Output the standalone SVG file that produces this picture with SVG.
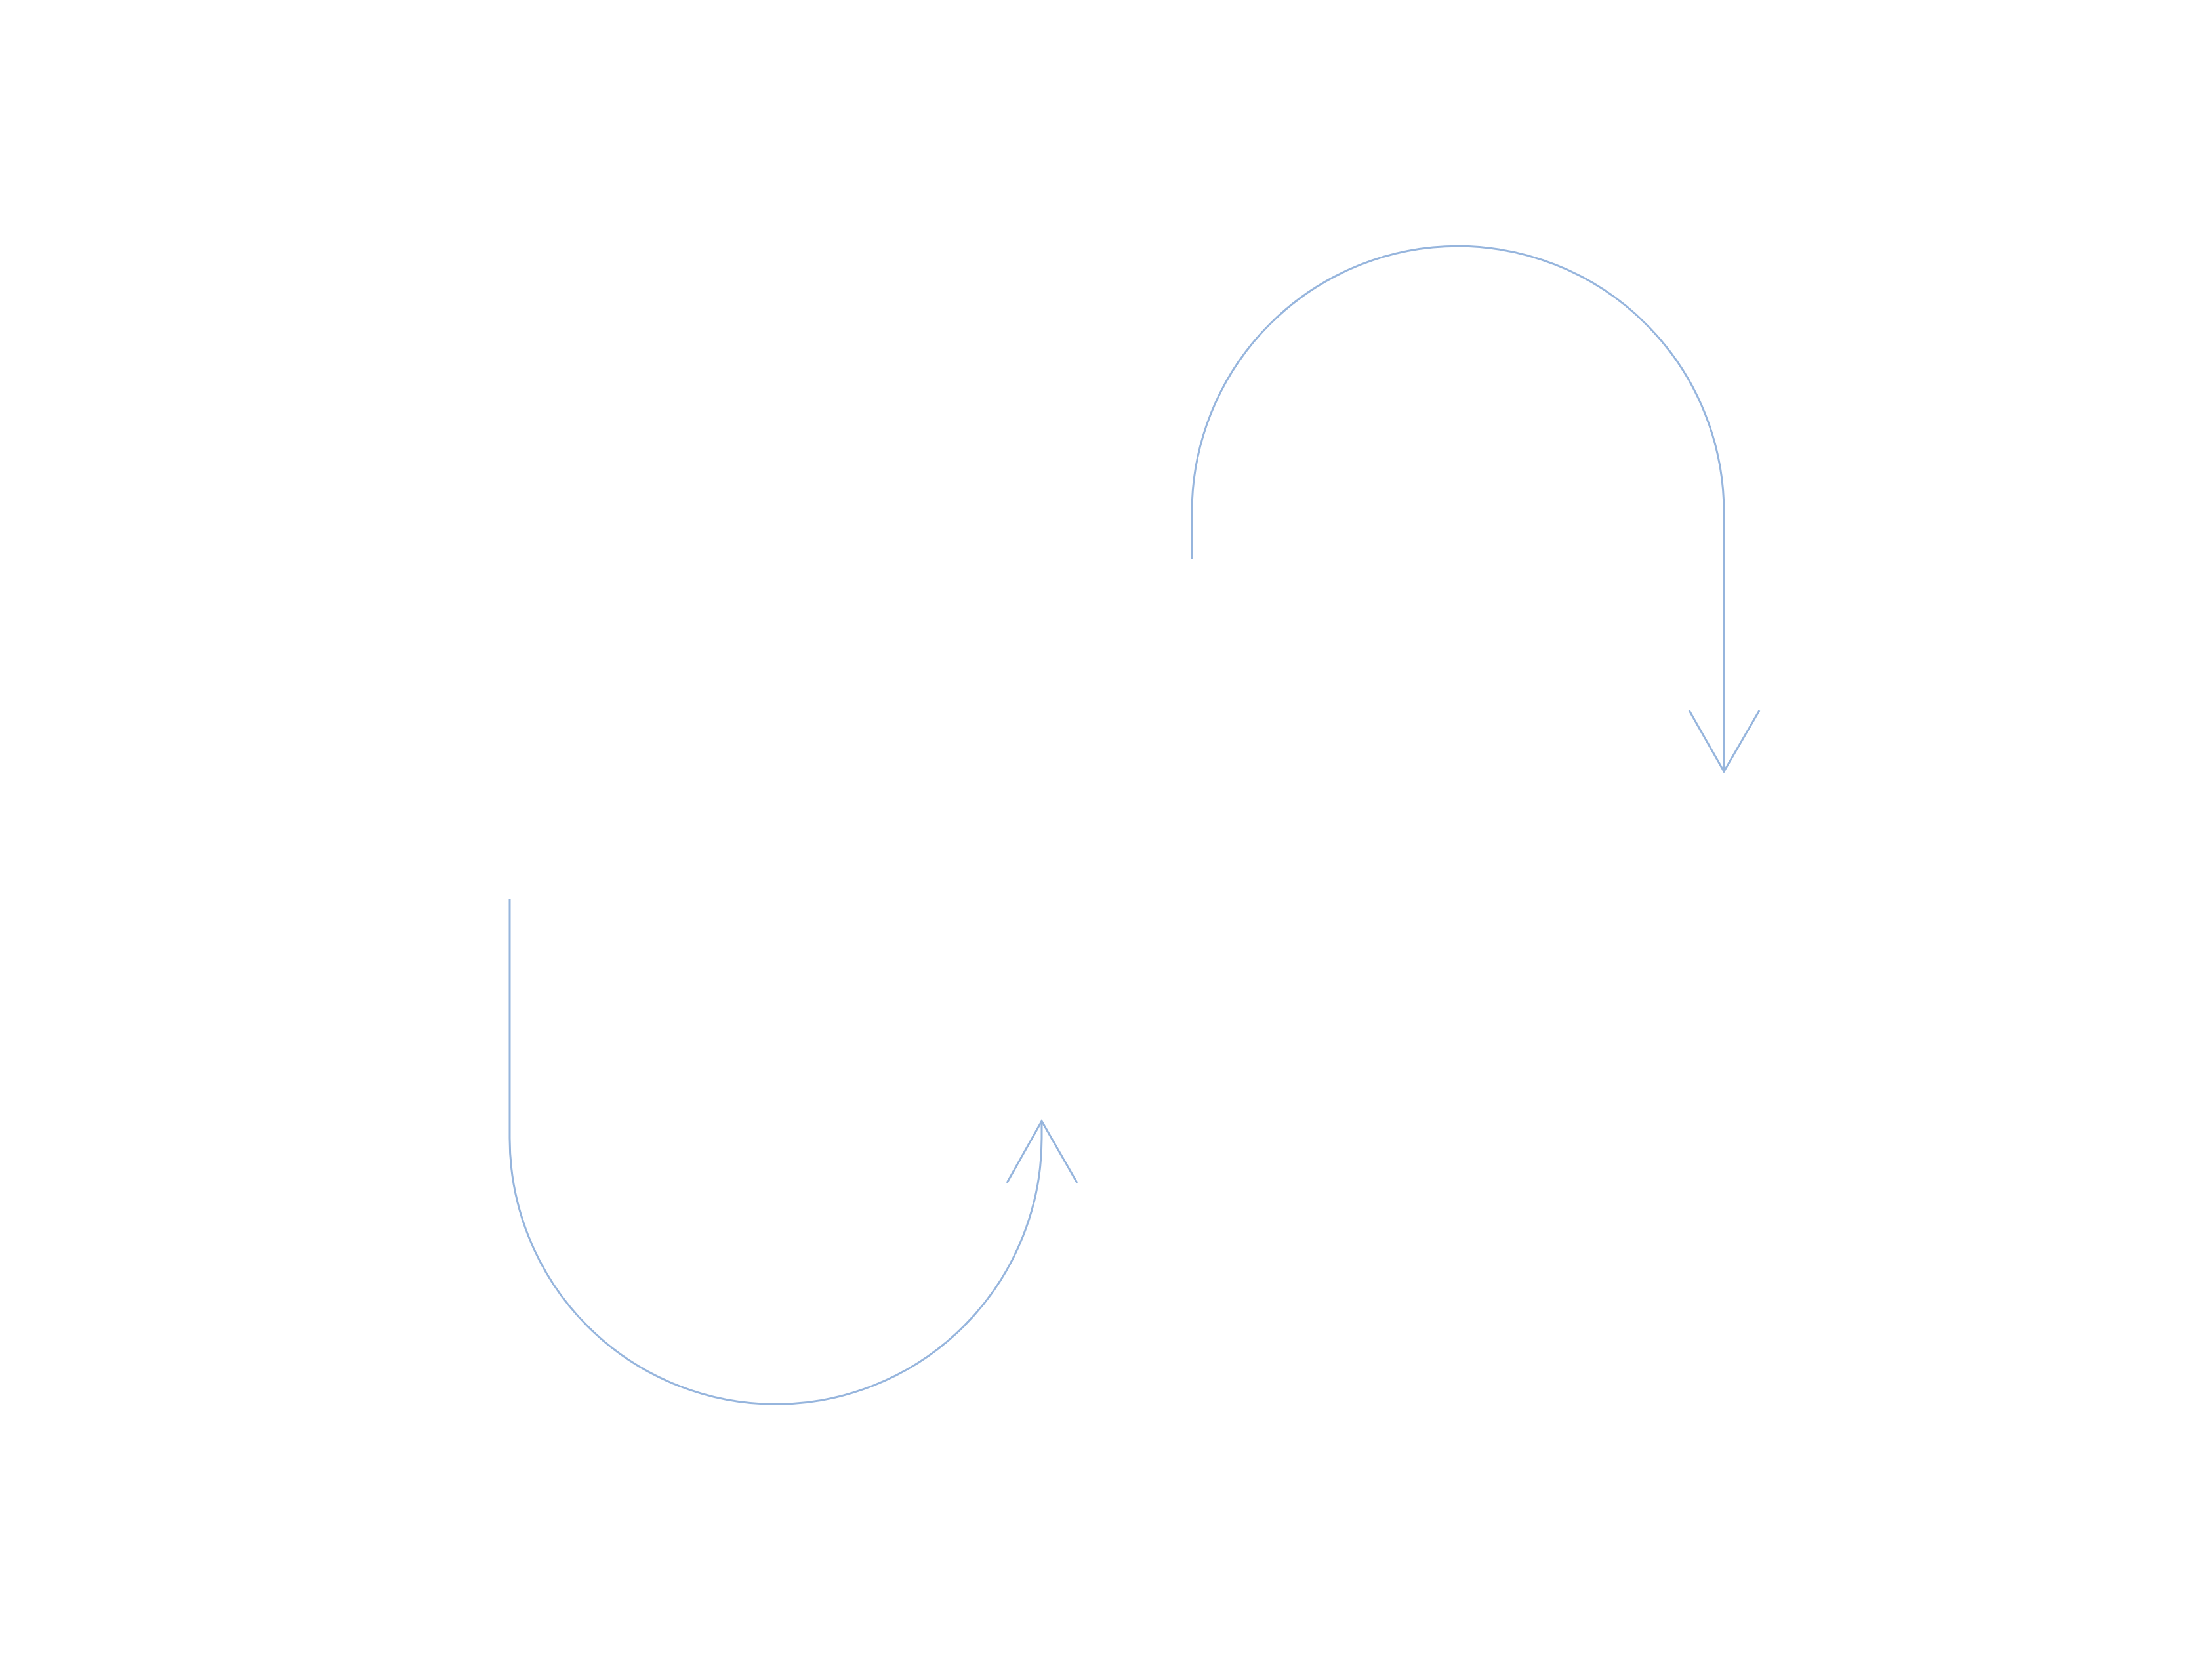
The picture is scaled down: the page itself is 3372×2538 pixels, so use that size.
<svg xmlns="http://www.w3.org/2000/svg" width="3372" height="2538" viewBox="0 0 3372 2538">
<style>
.c{fill:none;stroke:#96B5DD;stroke-width:3;stroke-linecap:butt;stroke-linejoin:miter}
</style>
<rect width="3372" height="2538" fill="#FFFFFF"/>
<g id="connectors">
<g id="arrow-top">
<path class="c" d="M1817,852 V780.5 A405.5,405.5 0 0 1 2628,780.5 V1176"/>
<polyline class="c" points="2575,1083 2628,1176 2682,1083"/>
</g>
<g id="arrow-bottom">
<path class="c" d="M777,1370 V1735 A405.5,405.5 0 0 0 1588,1735 V1709"/>
<polyline class="c" points="1535,1803 1588,1709 1642,1803"/>
</g>
</g>
</svg>
